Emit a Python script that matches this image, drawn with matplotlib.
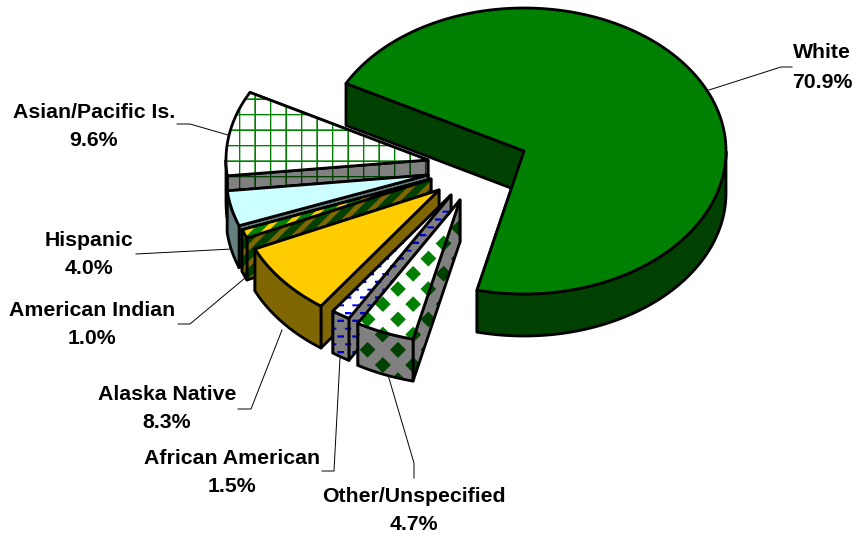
import numpy as np
import matplotlib
matplotlib.use("Agg")
import matplotlib.pyplot as plt
from matplotlib.colors import to_rgb
from matplotlib.patches import Polygon

# clockwise order round the pie, starting with White
names = ["White", "Other/Unspecified", "African American", "Alaska Native",
         "American Indian", "Hispanic", "Asian/Pacific Is."]
shares = [70.9, 4.7, 1.5, 8.3, 1.0, 4.0, 9.6]

# how far each slice is pulled out of the pie, in pixels
explode_dx = [0, -64, -73, -85, -93, -96, -96]
explode_dy = [0, 49, 44, 39, 28, 24, 9]

# slice styles: pattern, top colours (pattern, background), wall colours
patterns = [None, "diamond", "dash", None, "stripe", None, "grid"]
top_fg = ["#008000", "#008000", "#0000ff", "#ffcc00", "#ffcc00", "#ccffff", "#008000"]
top_bg = ["#008000", "#ffffff", "#ffffff", "#ffcc00", "#008000", "#ccffff", "#ffffff"]
wall_fg = ["#004000", "#004000", "#0000c8", "#806600", "#806600", "#668080", "#004000"]
wall_bg = ["#004000", "#808080", "#808080", "#806600", "#004000", "#668080", "#808080"]

# label positions (centre of name line, centre of value line) and leader lines
label_x = [822, 414, 232, 167, 92, 89, 94]
label_y = [53, 497, 458, 394, 311, 240, 112]
value_y = [83, 525, 486, 423, 339, 269, 141]
leaders = [
    [(709, 90), (781, 67), (792, 67)],
    [(414, 478), (414, 463), (388, 375)],
    [(322, 471), (334, 471), (340, 358)],
    [(238, 409), (251, 409), (282, 330)],
    [(178, 324), (190, 324), (245, 278)],
    [(136, 254), (232, 249)],
    [(177, 124), (190, 124), (228, 135)],
]

W, H = 858, 537
CX, CY, RX, RY, DEPTH = 524, 151, 202, 143, 42
START_ANGLE = 151.8
LW = 2.0

fig = plt.figure(figsize=(W / 100, H / 100), dpi=100)
ax = fig.add_axes([0, 0, 1, 1])


def pattern_mask(kind):
    # drawn at 3x and averaged, so that the edges are soft
    xs = (np.arange(W * 3) + 0.5) / 3
    ys = (np.arange(H * 3) + 0.5) / 3
    x, y = np.meshgrid(xs, ys)
    if kind == "grid":
        m = ((x - 239) % 15.5 < 1.5) | ((y - 145) % 15.5 < 1.5)
    elif kind == "diamond":
        u = (x - 398 + y - 289) / 30.4
        v = (x - 398 - y + 289) / 30.4
        m = (np.abs(u - np.round(u)) < 0.26) & (np.abs(v - np.round(v)) < 0.26)
    elif kind == "dash":
        row = np.floor(y / 7.8)
        m = (y % 7.8 < 2.2) & ((x + row * 7.5) % 15 < 6.5)
    else:
        m = (x + y) % 17 < 6.5
    m = m.astype(float).reshape(H, 3, W, 3).mean(axis=(1, 3))
    return m


def fill(points, kind, fg, bg, z):
    if kind is None:
        ax.add_patch(Polygon(points, closed=True, fc=fg, ec="black", lw=LW,
                             joinstyle="round", zorder=z))
        return
    m = pattern_mask(kind)[:, :, None]
    rgb = np.array(to_rgb(bg)) * (1 - m) + np.array(to_rgb(fg)) * m
    shape = Polygon(points, closed=True, fc="none", ec="black", lw=LW,
                    joinstyle="round", zorder=z + 0.5)
    ax.add_patch(shape)
    im = ax.imshow(rgb, extent=(0, W, H, 0), interpolation="nearest",
                   aspect="auto", zorder=z)
    im.set_clip_path(shape)


def cut_wall(apex, p, kind, fg, bg, z):
    pts = [apex, p, (p[0], p[1] + DEPTH), (apex[0], apex[1] + DEPTH)]
    fill(pts, kind, fg, bg, z)


# angles of every slice from the shares
sweeps = np.array(shares) / sum(shares) * 360
starts = START_ANGLE - np.concatenate(([0], np.cumsum(sweeps)[:-1]))

# White first, then the others from the back to the front
draw_order = [0, 6, 5, 4, 3, 2, 1]
z = 2
for i in draw_order:
    cx = CX + explode_dx[i]
    cy = CY + explode_dy[i]
    t = np.radians(np.linspace(starts[i], starts[i] - sweeps[i], 300))
    ax_x = cx + RX * np.cos(t)
    ax_y = cy - RY * np.sin(t)
    arc = np.column_stack((ax_x, ax_y))
    apex = (cx, cy)

    cut_wall(apex, tuple(arc[-1]), patterns[i], wall_fg[i], wall_bg[i], z)
    cut_wall(apex, tuple(arc[0]), patterns[i], wall_fg[i], wall_bg[i], z + 1)

    low = arc[np.sin(t) <= 0]
    if len(low) > 1:
        outer = np.vstack((low, (low + [0, DEPTH])[::-1]))
        fill(outer, patterns[i], wall_fg[i], wall_bg[i], z + 2)

    fill(np.vstack(([apex], arc)), patterns[i], top_fg[i], top_bg[i], z + 3)
    z += 4

# labels and leader lines
for i in range(len(names)):
    pts = np.array(leaders[i])
    ax.plot(pts[:, 0], pts[:, 1], color="black", lw=0.7, zorder=1)
    ax.text(label_x[i], label_y[i], names[i], ha="center", va="center",
            fontsize=15.3, fontweight="bold", family="Liberation Sans")
    ax.text(label_x[i], value_y[i], f"{shares[i]:.1f}%", ha="center", va="center",
            fontsize=15.3, fontweight="bold", family="Liberation Sans")

ax.set_xlim(0, W)
ax.set_ylim(H, 0)
ax.axis("off")

fig.savefig("out.png", dpi=100)
